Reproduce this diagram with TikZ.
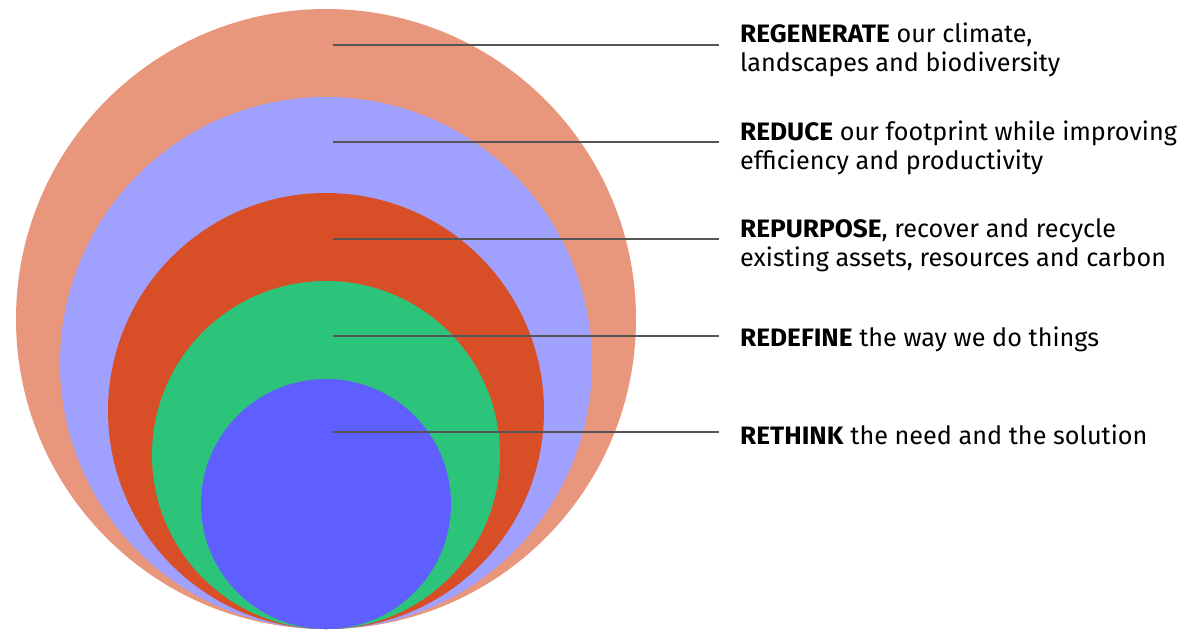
\documentclass[tikz,border=0pt]{standalone}
\usepackage{fontspec}
\setmainfont{Fira Sans}[BoldFeatures={FakeStretch=1.04}]
\definecolor{cA}{HTML}{E8967C}
\definecolor{cB}{HTML}{A0A0FF}
\definecolor{cC}{HTML}{D84E26}
\definecolor{cD}{HTML}{2BC47A}
\definecolor{cE}{HTML}{5F5FFF}
\definecolor{rule}{HTML}{555555}
\begin{document}
\begin{tikzpicture}[x=1pt,y=-1pt,
  lead/.style={draw=rule,line width=1.2pt},
  lbl/.style={anchor=base west,inner sep=0pt,align=left,font=\fontsize{25.2}{29}\selectfont}]
\useasboundingbox (0,0) rectangle (1186,630);
\fill[cA] (326,319) circle[radius=310];
\fill[cB] (326,363) circle[radius=266];
\fill[cC] (326,411) circle[radius=218];
\fill[cD] (326,455) circle[radius=174];
\fill[cE] (326,504) circle[radius=125];
\coordinate (s1) at (333,45);  \coordinate (e1) at (719,45);
\coordinate (s2) at (333,142); \coordinate (e2) at (719,142);
\coordinate (s3) at (333,239); \coordinate (e3) at (719,239);
\coordinate (s4) at (333,336); \coordinate (e4) at (719,336);
\coordinate (s5) at (333,432); \coordinate (e5) at (719,432);
\foreach \i in {1,...,5} \draw[lead] (s\i) -- (e\i);
\node[lbl] (t1) at (740,71) {\textbf{REGENERATE} our climate,\\landscapes and biodiversity};
\node[lbl] (t2) at (740,169) {\textbf{REDUCE} our footprint while improving\\efficiency and productivity};
\node[lbl] (t3) at (740,266) {\textbf{REPURPOSE}, recover and recycle\\existing assets, resources and carbon};
\node[lbl] (t4) at (740,346) {\textbf{REDEFINE} the way we do things};
\node[lbl] (t5) at (740,444) {\textbf{RETHINK} the need and the solution};
\end{tikzpicture}
\end{document}
